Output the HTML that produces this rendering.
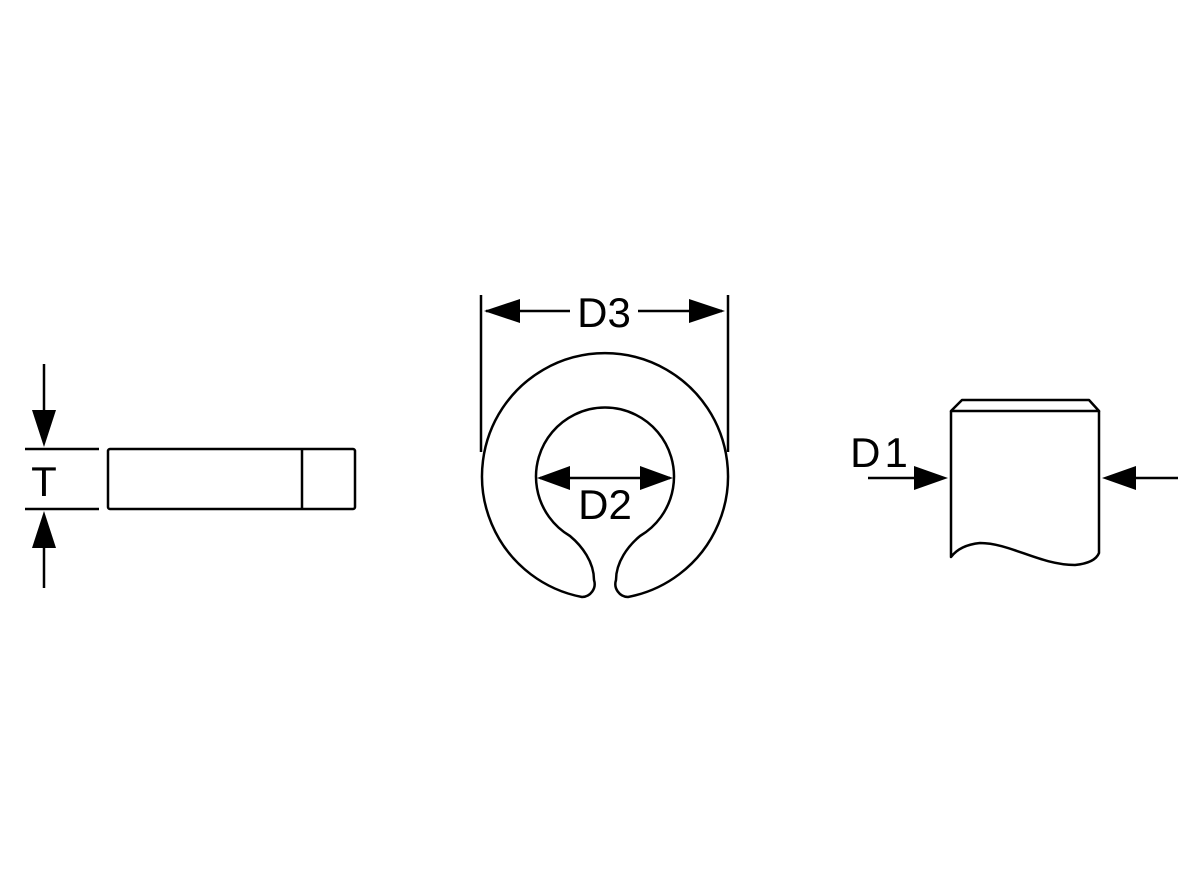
<!DOCTYPE html>
<html><head><meta charset="utf-8"><style>html,body{margin:0;padding:0;background:#fff}svg{display:block}</style></head><body>
<svg width="1200" height="880" viewBox="0 0 1200 880" xmlns="http://www.w3.org/2000/svg">
<g fill="none" stroke="#000" stroke-width="2.5" stroke-linejoin="round">
<!-- Left part -->
<rect x="108" y="449" width="247" height="60" rx="2"/>
<line x1="302" y1="449" x2="302" y2="509"/>
<line x1="25" y1="449" x2="99" y2="449"/>
<line x1="25" y1="509" x2="99" y2="509"/>
<line x1="44" y1="364" x2="44" y2="420"/>
<line x1="44" y1="540" x2="44" y2="588"/>
<!-- Ring -->
<line x1="481" y1="295" x2="481" y2="452"/>
<line x1="728" y1="295" x2="728" y2="452"/>
<line x1="486" y1="311" x2="570" y2="311"/>
<line x1="638" y1="311" x2="722" y2="311"/>
<path d="M582,597 A123,123 0 1 1 628,597 A13,13 0 0 1 616,580 C616,562 628,546 640,536 A69,69 0 1 0 570,536 C582,546 594,562 594,580 A13,13 0 0 1 582,597 Z"/>
<line x1="540" y1="478" x2="670" y2="478"/>
<!-- Shaft -->
<path d="M951,411 L962,400 L1089,400 L1099,411 Z"/>
<path d="M951,411 L951,557 Q960,545 980,543 C1010,543 1040,565 1075,565 Q1095,563 1099,553 L1099,411"/>
<line x1="868" y1="478" x2="915" y2="478"/>
<line x1="1135" y1="478" x2="1178" y2="478"/>
</g>
<g fill="#000">
<polygon points="44,447 32,410 56,410"/>
<polygon points="44,511 32,548 56,548"/>
<polygon points="484,311 520,299 520,323"/>
<polygon points="725,311 689,299 689,323"/>
<polygon points="537,478 570,466 570,490"/>
<polygon points="673,478 640,466 640,490"/>
<polygon points="948,478 914,466 914,490"/>
<polygon points="1102,478 1136,466 1136,490"/>
</g>
<g font-family="Liberation Sans, Arial, sans-serif" font-size="42" text-anchor="middle" fill="#000">
<text x="44" y="496">T</text>
<text x="604" y="327">D3</text>
<text x="605" y="519">D2</text>
<text x="881" y="467" letter-spacing="4">D1</text>
</g>
</svg>
</body></html>
